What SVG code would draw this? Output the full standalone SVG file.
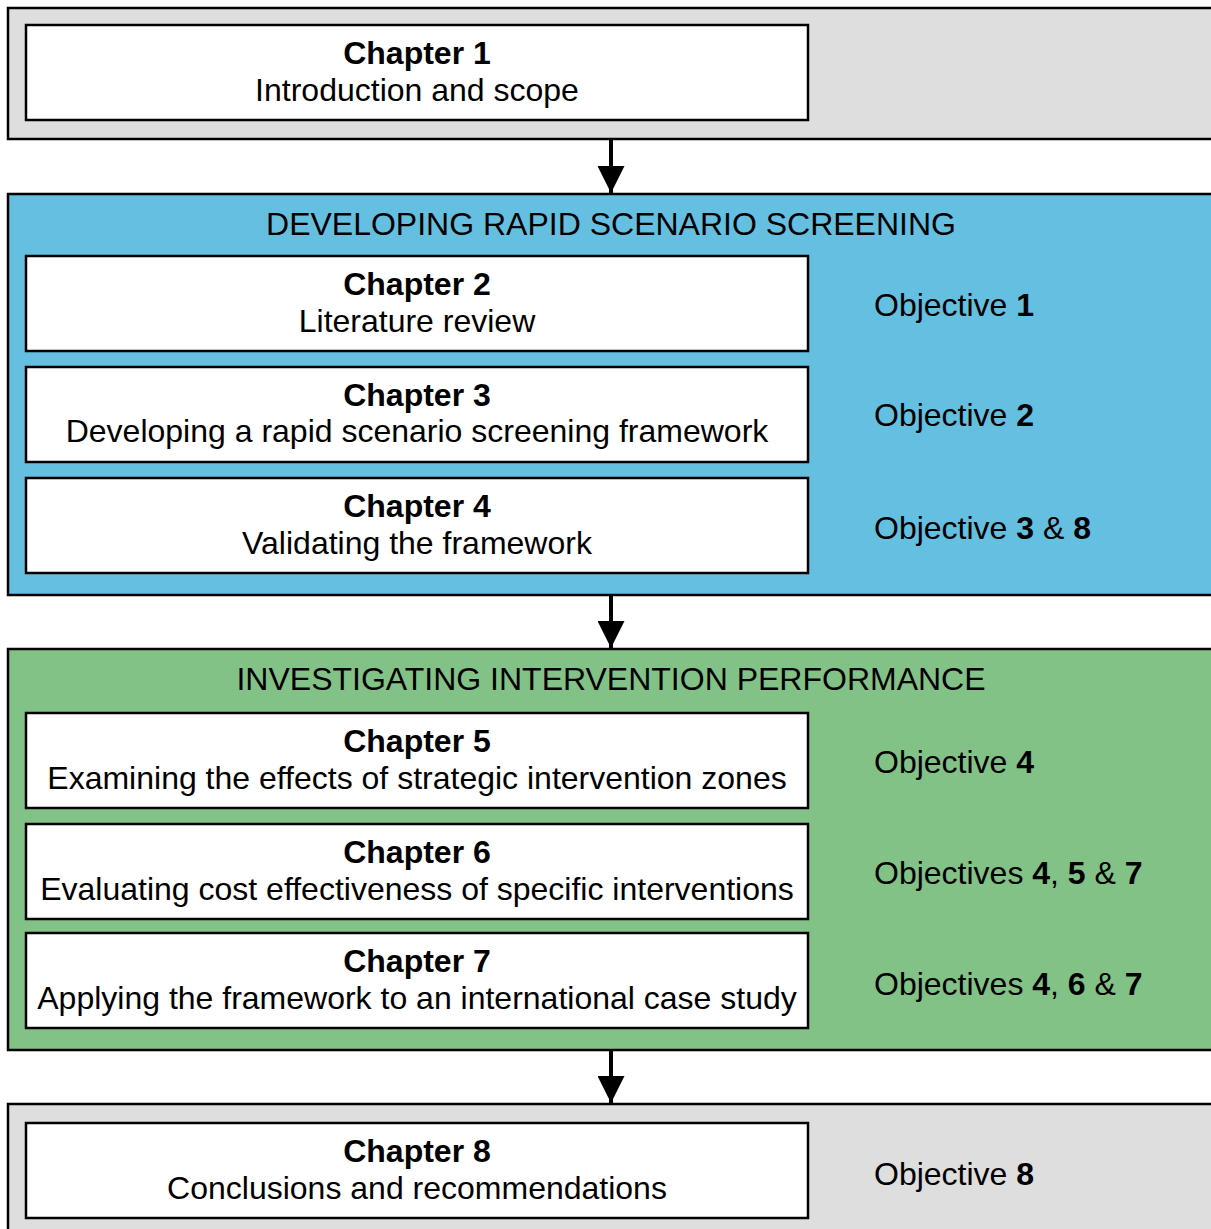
<svg xmlns="http://www.w3.org/2000/svg" width="1211" height="1229" viewBox="0 0 1211 1229">
  <defs>
    <style>
      .band { stroke: #000; stroke-width: 2.5; }
      .grey { fill: #DEDEDE; }
      .blue { fill: #64BFE1; }
      .green { fill: #83C286; }
      .box { fill: #fff; stroke: #000; stroke-width: 2.5; }
      text { font-family: "Liberation Sans", Arial, sans-serif; font-size: 32px; fill: #000; }
      .title { font-weight: bold; text-anchor: middle; }
      .sub { text-anchor: middle; }
      .head { text-anchor: middle; }
      .b { font-weight: bold; }
      .conn { stroke: #000; stroke-width: 4; fill: none; }
    </style>
    <marker id="arrow" markerWidth="27" markerHeight="27" refX="27" refY="13.5" orient="auto" markerUnits="userSpaceOnUse">
      <path d="M0,0 L27,13.5 L0,27 Z" fill="#000"/>
    </marker>
  </defs>

  <!-- section bands -->
  <rect class="band grey" x="8" y="8" width="1215" height="131"/>
  <rect class="band blue" x="8" y="194" width="1215" height="401"/>
  <rect class="band green" x="8" y="649" width="1215" height="401"/>
  <rect class="band grey" x="8" y="1104" width="1215" height="140"/>

  <text class="head" x="611" y="235">DEVELOPING RAPID SCENARIO SCREENING</text>
  <text class="head" x="611" y="690">INVESTIGATING INTERVENTION PERFORMANCE</text>

  <!-- connectors -->
  <g id="connectors">
    <line class="conn" x1="611" y1="140" x2="611" y2="193" marker-end="url(#arrow)"/>
    <line class="conn" x1="611" y1="596" x2="611" y2="648" marker-end="url(#arrow)"/>
    <line class="conn" x1="611" y1="1051" x2="611" y2="1103" marker-end="url(#arrow)"/>
  </g>

  <g id="ch1">
    <rect class="box" x="26" y="25" width="782" height="95"/>
    <text class="title" x="417" y="64">Chapter 1</text>
    <text class="sub" x="417" y="101">Introduction and scope</text>
  </g>

  <g id="ch2">
    <rect class="box" x="26" y="256" width="782" height="95"/>
    <text class="title" x="417" y="295">Chapter 2</text>
    <text class="sub" x="417" y="332">Literature review</text>
  </g>
  <g id="obj2"><text x="874" y="316">Objective <tspan class="b">1</tspan></text></g>

  <g id="ch3">
    <rect class="box" x="26" y="367" width="782" height="95"/>
    <text class="title" x="417" y="406">Chapter 3</text>
    <text class="sub" x="417" y="442">Developing a rapid scenario screening framework</text>
  </g>
  <g id="obj3"><text x="874" y="426">Objective <tspan class="b">2</tspan></text></g>

  <g id="ch4">
    <rect class="box" x="26" y="478" width="782" height="95"/>
    <text class="title" x="417" y="517">Chapter 4</text>
    <text class="sub" x="417" y="554">Validating the framework</text>
  </g>
  <g id="obj4"><text x="874" y="539">Objective <tspan class="b">3</tspan> &amp; <tspan class="b">8</tspan></text></g>

  <g id="ch5">
    <rect class="box" x="26" y="713" width="782" height="95"/>
    <text class="title" x="417" y="752">Chapter 5</text>
    <text class="sub" x="417" y="789">Examining the effects of strategic intervention zones</text>
  </g>
  <g id="obj5"><text x="874" y="773">Objective <tspan class="b">4</tspan></text></g>

  <g id="ch6">
    <rect class="box" x="26" y="824" width="782" height="95"/>
    <text class="title" x="417" y="863">Chapter 6</text>
    <text class="sub" x="417" y="900">Evaluating cost effectiveness of specific interventions</text>
  </g>
  <g id="obj6"><text x="874" y="884">Objectives <tspan class="b">4</tspan>, <tspan class="b">5</tspan> &amp; <tspan class="b">7</tspan></text></g>

  <g id="ch7">
    <rect class="box" x="26" y="933" width="782" height="95"/>
    <text class="title" x="417" y="972">Chapter 7</text>
    <text class="sub" x="417" y="1009">Applying the framework to an international case study</text>
  </g>
  <g id="obj7"><text x="874" y="995">Objectives <tspan class="b">4</tspan>, <tspan class="b">6</tspan> &amp; <tspan class="b">7</tspan></text></g>

  <g id="ch8">
    <rect class="box" x="26" y="1123" width="782" height="95"/>
    <text class="title" x="417" y="1162">Chapter 8</text>
    <text class="sub" x="417" y="1199">Conclusions and recommendations</text>
  </g>
  <g id="obj8"><text x="874" y="1185">Objective <tspan class="b">8</tspan></text></g>
</svg>
